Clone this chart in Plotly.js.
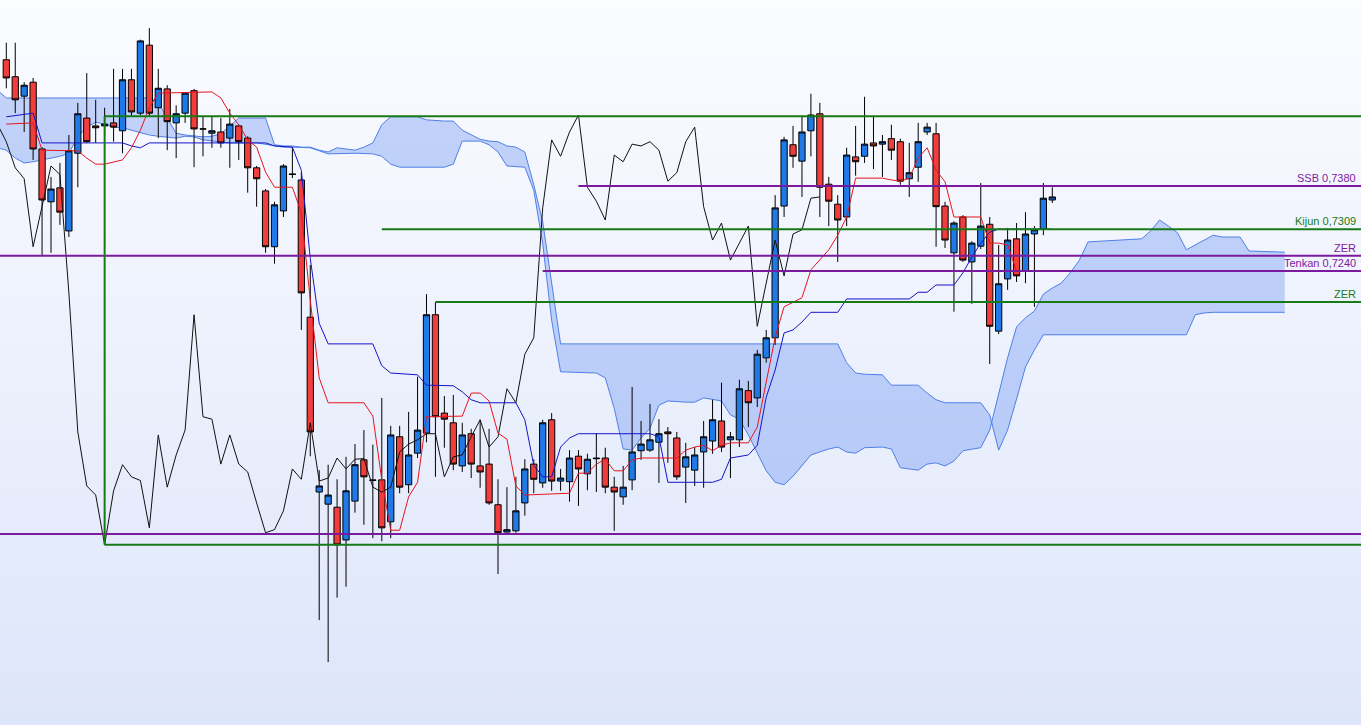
<!DOCTYPE html>
<html><head><meta charset="utf-8">
<script src="https://cdn.plot.ly/plotly-3.0.1.min.js"></script>
<style>
html,body{margin:0;padding:0;overflow:hidden;}
body{width:1361px;height:725px;background:linear-gradient(to bottom,#fbfcff 0%,#eef2fd 45%,#dde5fa 100%);}
#chart{width:1361px;height:725px;}
</style></head><body><div id="chart"></div>
<script>
// ---- candles (index 0..117) ----
const openP=[.7588,.7560,.7528,.7551,.7441,.7354,.7377,.7306,.7434,.7492,.7479,.7479,.7484,.7471,.7555,.7500,.7612,.7509,.7540,.7484,
.7500,.7537,.7474,.7467,.7469,.7459,.7479,.7459,.7410,.7372,.7280,.7339,.7400,.7390,.7164,.6876,.6856,.6851,.6797,.6861,
.6929,.6896,.6896,.6827,.6967,.6888,.6940,.6973,.7168,.7006,.6990,.6919,.6972,.6919,.6922,.6855,.6810,.6812,.6858,.6922,
.6891,.6995,.6894,.6893,.6935,.6906,.6932,.6932,.6884,.6868,.6896,.6944,.6945,.6958,.6975,.6965,.6917,.6912,.6942,.6960,
.6993,.6962,.6962,.7043,.7031,.7097,.7130,.7347,.7448,.7421,.7471,.7499,.7383,.7350,.7329,.7428,.7429,.7451,.7449,.7458,
.7453,.7392,.7411,.7469,.7466,.7347,.7270,.7329,.7255,.7281,.7317,.7141,.7227,.7293,.7240,.7301,.7309,.7357];
const highP=[.7616,.7616,.7551,.7558,.7444,.7395,.7418,.7464,.7517,.7566,.7522,.7509,.7573,.7573,.7573,.7621,.7640,.7573,.7546,.7513,
.7535,.7540,.7494,.7494,.7492,.7507,.7481,.7462,.7413,.7375,.7354,.7416,.7444,.7403,.7250,.6912,.6921,.6897,.6934,.6955,
.6978,.6954,.7031,.6985,.6985,.7008,.7066,.7202,.7189,.7034,.7036,.6990,.6980,.6995,.6980,.6897,.6884,.6901,.6930,.6930,
.6995,.7006,.6914,.6945,.6945,.6939,.6973,.6949,.6901,.6919,.7049,.6993,.7021,.6996,.6983,.6975,.6957,.6950,.6993,.7028,
.7056,.6975,.7061,.7059,.7110,.7143,.7365,.7461,.7479,.7494,.7532,.7517,.7395,.7365,.7443,.7479,.7527,.7494,.7464,.7481,
.7458,.7451,.7484,.7484,.7484,.7354,.7322,.7332,.7289,.7385,.7329,.7283,.7311,.7319,.7337,.7314,.7385,.7378];
const lowP=[.7541,.7500,.7469,.7423,.7266,.7270,.7316,.7296,.7378,.7451,.7451,.7464,.7453,.7434,.7494,.7497,.7494,.7459,.7439,.7426,
.7484,.7411,.7429,.7443,.7443,.7410,.7423,.7369,.7346,.7270,.7252,.7329,.7393,.7143,.6935,.6665,.6596,.6702,.6720,.6842,
.6822,.6800,.6795,.6800,.6874,.6874,.6932,.6958,.6901,.6949,.6912,.6909,.6899,.6883,.6855,.6741,.6809,.6809,.6837,.6874,
.6883,.6878,.6878,.6860,.6853,.6879,.6876,.6874,.6812,.6855,.6879,.6929,.6942,.6891,.6924,.6896,.6858,.6886,.6883,.6939,
.6942,.6899,.6950,.6983,.7016,.7089,.7118,.7329,.7410,.7362,.7429,.7329,.7314,.7255,.7314,.7397,.7418,.7408,.7395,.7423,
.7382,.7362,.7387,.7464,.7280,.7278,.7173,.7255,.7186,.7276,.7087,.7136,.7209,.7222,.7220,.7181,.7299,.7352];
const closeP=[.7558,.7522,.7546,.7441,.7357,.7375,.7337,.7438,.7499,.7453,.7476,.7482,.7477,.7555,.7502,.7619,.7500,.7541,.7486,.7499,
.7533,.7474,.7474,.7471,.7451,.7482,.7453,.7410,.7392,.7280,.7349,.7413,.7399,.7204,.6975,.6886,.6871,.6789,.6878,.6921,
.6901,.6895,.6817,.6970,.6884,.6937,.6978,.7168,.7000,.6996,.6922,.6970,.6922,.6909,.6858,.6809,.6814,.6845,.6914,.6897,
.6990,.6894,.6899,.6932,.6914,.6930,.6931,.6884,.6876,.6884,.6942,.6955,.6962,.6972,.6972,.6901,.6934,.6937,.6967,.6995,
.6950,.6967,.7046,.7023,.7103,.7130,.7344,.7456,.7429,.7469,.7497,.7378,.7355,.7324,.7431,.7420,.7449,.7446,.7453,.7439,
.7388,.7402,.7453,.7477,.7346,.7291,.7319,.7258,.7286,.7314,.7149,.7219,.7291,.7232,.7301,.7308,.7360,.7362];

// ---- Ichimoku lines (vertices: candle index, price) ----
const tenkanIdx=[0,3,4,8,9,10,11,12,13,14,15,16,17,23,24,25,26,27,28,29,30,32,33,34,35,36,40,41,42,43,44,45,46,47,51,52,53,54,55,56,
57,58,63,64,65,66,67,68,69,70,71,75,76,77,78,79,80,81,83,84,85,86,87,88,89,90,91,92,93,94,95,98,99,100,101,102,103,104,105,106,
109,110,111,112,113,117];
const tenkanVal=[.7482,.7484,.7439,.7438,.7426,.7416,.7416,.7420,.7423,.7443,.7472,.7509,.7533,.7535,.7525,.7500,.7481,.7456,.7444,.7403,
.7378,.7378,.7336,.7192,.7064,.7023,.7023,.7001,.6896,.6813,.6813,.6868,.6892,.7000,.7001,.7039,.7039,.7026,.6973,.6963,
.6886,.6871,.6874,.6907,.6907,.6922,.6930,.6911,.6911,.6929,.6932,.6932,.6945,.6950,.6953,.6944,.6953,.6957,.6957,.6983,
.7060,.7131,.7181,.7189,.7196,.7242,.7258,.7275,.7299,.7329,.7393,.7393,.7390,.7388,.7393,.7426,.7443,.7406,.7387,.7329,
.7329,.7286,.7286,.7283,.7240,.7240];
const kijunIdx=[0,3,4,13,14,15,16,29,30,32,33,34,35,36,41,42,43,46,47,50,51,52,53,57,58,59,60,61,62,63,
64,72,73,74,79,80,81,82,83,84,85,86,87,88,89,90,93,94,101,102,103,104,106,107,108,109,110,111,117];
const kijunVal=[.7494,.7500,.7451,.7451,.7446,.7443,.7451,.7451,.7446,.7444,.7406,.7261,.7154,.7120,.7120,.7084,.7072,.7069,.7052,.7051,
.7041,.7028,.7023,.7023,.6995,.6920,.6901,.6901,.6950,.6965,.6972,.6972,.6967,.6892,.6892,.6897,.6932,.6935,.6937,.6953,
.7032,.7077,.7138,.7143,.7156,.7172,.7172,.7194,.7194,.7205,.7205,.7217,.7217,.7237,.7263,.7286,.7304,.7309,.7309];
const spanAIdx=[-1,0,16,17,18,19,20,21,22,23,24,25,26,29,30,31,32,33,34,35,36,37,38,39,40,41,42,43,46,47,
49,50,51,52,53,54,55,56,57,58,59,60,61,62,93,94,95,96,98,99,102,103,104,105,109,110,111,112,113,114,
115,116,132,133,134,135,143];
const spanAVal=[.7538,.7525,.7525,.7518,.7492,.7467,.7464,.7462,.7461,.7462,.7466,.7479,.7492,.7492,.7448,.7446,.7446,.7444,.7444,.7439,
.7436,.7443,.7441,.7439,.7444,.7451,.7481,.7494,.7494,.7489,.7487,.7487,.7472,.7464,.7457,.7454,.7453,.7446,.7444,.7436,
.7382,.7321,.7220,.7120,.7120,.7089,.7072,.7070,.7069,.7052,.7052,.7039,.7028,.7023,.7023,.7003,.6945,.6978,.7029,.7082,
.7110,.7135,.7135,.7168,.7171,.7172,.7172];
const spanBIdx=[-1,0,1,2,3,4,5,6,7,8,9,10,11,12,13,14,15,16,17,18,19,20,21,22,23,24,25,28,29,30,
31,32,33,34,35,36,39,41,42,43,44,49,50,51,53,54,55,56,58,59,60,61,62,66,67,68,69,70,71,72,
73,74,76,77,78,79,80,81,82,83,84,85,86,87,88,89,90,91,92,93,94,95,96,98,99,100,102,103,104,105,
106,107,108,109,110,111,112,113,114,115,116,117,118,119,120,121,127,128,129,130,131,132,133,134,135,136,138,139,143];
const spanBVal=[.7443,.7439,.7426,.7418,.7420,.7423,.7426,.7429,.7434,.7461,.7477,.7485,.7482,.7477,.7476,.7472,.7467,.7464,.7462,.7461,
.7459,.7462,.7461,.7456,.7454,.7453,.7451,.7451,.7449,.7446,.7444,.7444,.7443,.7443,.7438,.7433,.7434,.7433,.7429,.7416,
.7411,.7411,.7416,.7454,.7454,.7448,.7436,.7413,.7411,.7373,.7285,.7159,.7074,.7072,.7064,.7014,.6947,.6945,.6965,.6981,
.7019,.7026,.7024,.7024,.7031,.7029,.7026,.7003,.6996,.6970,.6940,.6911,.6892,.6888,.6902,.6919,.6937,.6942,.6947,.6950,
.6942,.6940,.6949,.6950,.6947,.6916,.6912,.6922,.6924,.6919,.6927,.6944,.6947,.6949,.6978,.7039,.7097,.7148,.7163,.7174,
.7202,.7212,.7220,.7237,.7257,.7288,.7293,.7306,.7324,.7314,.7303,.7275,.7283,.7291,.7299,.7296,.7296,.7273,.7271];
const chikouShift=26;

// ---- horizontal levels ----
const levelPrice=[0.7495,0.6789,0.7380,0.7309,0.7265,0.7240,0.7189,0.6807];
const levelStart=[11,11,64,42,-1,60,48,-1];
const levelKind=['g','g','p','g','p','p','g','p'];
const levelLabel=['','','SSB 0,7380','Kijun 0,7309','ZER','Tenkan 0,7240','ZER',''];
const boxCorner=[11];

// ---- styling ----
const COL={g:'#177a17',p:'#7c1a9f'};
const X0=-0.705, X1=151.53, Y0=0.649225, Y1=0.76864;

const idx=closeP.map((_,i)=>i);
const cloudX=spanAIdx.concat(spanBIdx.slice().reverse());
const cloudY=spanAVal.concat(spanBVal.slice().reverse());

const traces=[
 {type:'scatter',mode:'lines',x:cloudX,y:cloudY,fill:'toself',fillcolor:'rgba(100,140,240,0.36)',line:{width:0},xaxis:'x',yaxis:'y',hoverinfo:'skip'},
 {type:'scatter',mode:'lines',x:spanAIdx,y:spanAVal,line:{color:'#4f80e6',width:1},xaxis:'x',yaxis:'y'},
 {type:'scatter',mode:'lines',x:spanBIdx,y:spanBVal,line:{color:'#4f80e6',width:1},xaxis:'x',yaxis:'y'},
 {type:'candlestick',x:idx,open:openP,high:highP,low:lowP,close:closeP,xaxis:'x2',yaxis:'y2',whiskerwidth:0,
  increasing:{line:{color:'#000',width:1},fillcolor:'#1f7ae8'},
  decreasing:{line:{color:'#000',width:1},fillcolor:'#f23d3d'}},
 {type:'scatter',mode:'lines',x:idx.slice(chikouShift-1).map(i=>i-chikouShift),y:closeP.slice(chikouShift-1),line:{color:'#111',width:1},xaxis:'x2',yaxis:'y2'},
 {type:'scatter',mode:'lines',x:kijunIdx,y:kijunVal,line:{color:'#1414c8',width:1},xaxis:'x2',yaxis:'y2'},
 {type:'scatter',mode:'lines',x:tenkanIdx,y:tenkanVal,line:{color:'#e8141e',width:1},xaxis:'x2',yaxis:'y2'}
];

const shapes=levelPrice.map((p,k)=>({type:'line',xref:'x',yref:'y',x0:Math.max(levelStart[k],X0),x1:X1,y0:p,y1:p,
  line:{color:COL[levelKind[k]],width:2},layer:'above'}));
shapes.push({type:'line',xref:'x',yref:'y',x0:boxCorner[0],x1:boxCorner[0],y0:levelPrice[0],y1:levelPrice[1],line:{color:COL.g,width:2},layer:'above'});

const annotations=[];
levelLabel.forEach((t,k)=>{ if(!t) return;
  annotations.push({xref:'paper',yref:'y',x:1,y:levelPrice[k],xanchor:'right',yanchor:'bottom',xshift:-3,yshift:0,
   text:t,showarrow:false,font:{family:'Liberation Sans, Arial, sans-serif',size:11,color:COL[levelKind[k]]}});
});

const ax={range:[X0,X1],visible:false,showgrid:false,zeroline:false,fixedrange:true,rangeslider:{visible:false}};
const ay={range:[Y0,Y1],visible:false,showgrid:false,zeroline:false,fixedrange:true};
const layout={width:1361,height:725,margin:{l:0,r:0,t:0,b:0,pad:0},paper_bgcolor:'rgba(0,0,0,0)',plot_bgcolor:'rgba(0,0,0,0)',
 showlegend:false,hovermode:false,boxmode:'overlay',boxgap:0.3,boxgroupgap:0,
 xaxis:Object.assign({},ax),yaxis:Object.assign({},ay),
 xaxis2:Object.assign({overlaying:'x'},ax),yaxis2:Object.assign({overlaying:'y'},ay),
 shapes:shapes,annotations:annotations};
Plotly.newPlot('chart',traces,layout,{displayModeBar:false,staticPlot:true});
</script></body></html>
